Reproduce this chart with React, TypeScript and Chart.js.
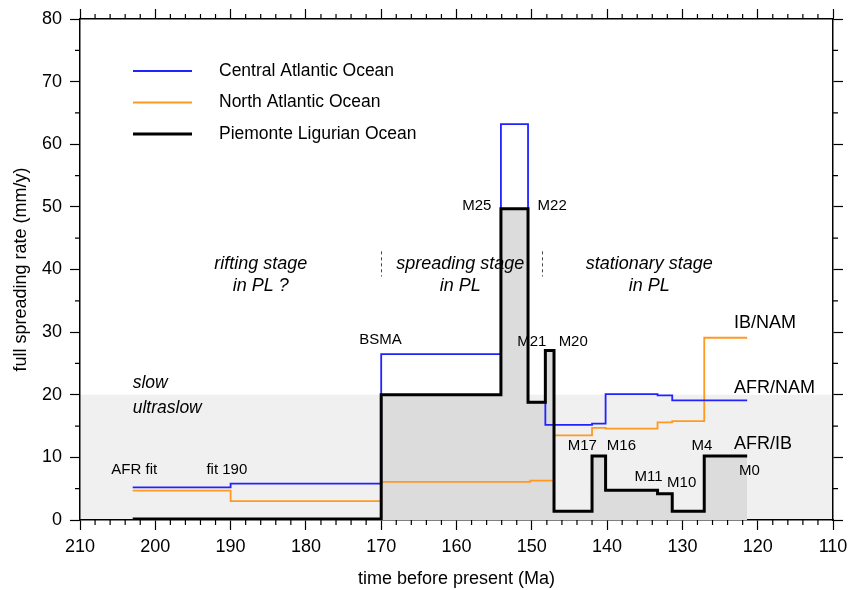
import React, { useEffect, useRef } from "react";
import { Chart, registerables } from "chart.js";

Chart.register(...registerables);

const FONT = "'Liberation Sans', Arial, Helvetica, sans-serif";

// ---- data (Ma edges and rates in mm/y) ----
const centralEdges = [203, 190, 170, 154.1, 150.5, 148.2, 142, 140.2, 133.3, 131.35, 121.4];
const centralRates = [5.2, 5.8, 26.5, 63.2, 18.8, 15.2, 15.4, 20.1, 19.9, 19.1];

const northEdges = [203, 190, 170, 150.2, 147.05, 142, 140.2, 133.3, 131.35, 127.1, 121.4];
const northRates = [4.7, 3.0, 6.1, 6.3, 13.5, 14.7, 14.6, 15.6, 15.8, 29.1];

const pieEdges = [203, 170, 154.1, 150.5, 148.2, 147.05, 142, 140.2, 133.3, 131.35, 127.1, 121.4];
const pieRates = [0.15, 20, 49.7, 18.8, 27.05, 1.4, 10.2, 4.75, 4.2, 1.4, 10.2];

const seriesNames = ["Central Atlantic Ocean", "North Atlantic Ocean", "Piemonte Ligurian Ocean"];
const seriesColors = ["#2222ff", "#ff9922", "#000000"];
const seriesWidths = [1.8, 1.8, 3];

// ultraslow band
const bandTop = 20;

// annotations (data coordinates)
const chronLabels = ["M25", "M22", "BSMA", "M21", "M20", "M17", "M16", "M11", "M10", "M4", "M0", "AFR fit", "fit 190"];
const chronX = [157.3, 147.3, 170.1, 150.0, 144.5, 143.3, 138.1, 134.5, 130.1, 127.4, 121.1, 202.8, 190.5];
const chronY = [50.2, 50.2, 28.7, 28.4, 28.4, 11.8, 11.8, 6.9, 6.0, 11.8, 7.8, 8.06, 8.06];

const plateLabels = ["IB/NAM", "AFR/NAM", "AFR/IB"];
const plateX = 123.15;
const plateY = [31.5, 21.1, 12.2];

const speedLabels = ["slow", "ultraslow"];
const speedX = 203.0;
const speedY = [21.9, 17.9];

const stageLines = [["rifting stage", "in PL ?"], ["spreading stage", "in PL"], ["stationary stage", "in PL"]];
const stageX = [186.0, 159.5, 134.4];
const stageRowY = [40.8, 37.3];

const stageDividers = [170, 148.7];
const dividerRange = [38.9, 42.9];

const xTicksMin = 110;
const xTicksMax = 210;

function steps(edges: number[], rates: number[]) {
  const pts: { x: number; y: number }[] = [];
  rates.forEach((r, i) => {
    pts.push({ x: edges[i], y: r });
    pts.push({ x: edges[i + 1], y: r });
  });
  return pts;
}

const decorPlugin = {
  id: "decor",
  beforeDraw(chart: any) {
    const { ctx, chartArea, scales } = chart;
    const y = scales.y;
    ctx.save();
    ctx.fillStyle = "#f0f0f0";
    const yt = y.getPixelForValue(bandTop);
    const yb = y.getPixelForValue(0);
    ctx.fillRect(chartArea.left, yt, chartArea.right - chartArea.left, yb - yt);
    ctx.restore();
  },
  afterDatasetsDraw(chart: any) {
    const { ctx, scales } = chart;
    const x = scales.x;
    const y = scales.y;
    ctx.save();
    // dividers
    ctx.strokeStyle = "#444";
    ctx.lineWidth = 1;
    ctx.setLineDash([3, 3]);
    stageDividers.forEach((v) => {
      const px = Math.round(x.getPixelForValue(v)) + 0.5;
      ctx.beginPath();
      ctx.moveTo(px, y.getPixelForValue(dividerRange[1]));
      ctx.lineTo(px, y.getPixelForValue(dividerRange[0]));
      ctx.stroke();
    });
    ctx.setLineDash([]);

    ctx.fillStyle = "#000";
    ctx.textBaseline = "middle";
    // chron labels
    ctx.font = `15px ${FONT}`;
    ctx.textAlign = "center";
    chronLabels.forEach((t, i) => {
      ctx.fillText(t, x.getPixelForValue(chronX[i]), y.getPixelForValue(chronY[i]));
    });
    // plate labels
    ctx.font = `18px ${FONT}`;
    ctx.textAlign = "left";
    plateLabels.forEach((t, i) => {
      ctx.fillText(t, x.getPixelForValue(plateX), y.getPixelForValue(plateY[i]));
    });
    // speed labels
    ctx.font = `italic 17.5px ${FONT}`;
    speedLabels.forEach((t, i) => {
      ctx.fillText(t, x.getPixelForValue(speedX), y.getPixelForValue(speedY[i]));
    });
    // stage labels
    ctx.font = `italic 18px ${FONT}`;
    ctx.textAlign = "center";
    stageLines.forEach((lines, i) => {
      lines.forEach((t, j) => {
        ctx.fillText(t, x.getPixelForValue(stageX[i]), y.getPixelForValue(stageRowY[j]));
      });
    });

    // legend
    const ca = chart.chartArea;
    const lx0 = ca.left + 53;
    const lx1 = ca.left + 112;
    const tx = ca.left + 139;
    const ly0 = ca.top + 52;
    const dy = 31.5;
    ctx.font = `17.5px ${FONT}`;
    ctx.textAlign = "left";
    seriesNames.forEach((name, i) => {
      const ly = ly0 + i * dy;
      ctx.strokeStyle = seriesColors[i];
      ctx.lineWidth = seriesWidths[i];
      ctx.beginPath();
      ctx.moveTo(lx0, ly);
      ctx.lineTo(lx1, ly);
      ctx.stroke();
      ctx.fillStyle = "#000";
      ctx.fillText(name, tx, ly);
    });
    ctx.restore();
  },
  afterDraw(chart: any) {
    const { ctx, chartArea, scales } = chart;
    const x = scales.x;
    const y = scales.y;
    ctx.save();
    ctx.strokeStyle = "#000";
    ctx.lineWidth = 1.2;
    const len = 5;
    for (let v = xTicksMin; v <= xTicksMax; v += 2) {
      if (v % 10 === 0) continue;
      const px = x.getPixelForValue(v);
      ctx.beginPath();
      ctx.moveTo(px, chartArea.bottom);
      ctx.lineTo(px, chartArea.bottom + len);
      ctx.moveTo(px, chartArea.top);
      ctx.lineTo(px, chartArea.top - len);
      ctx.stroke();
    }
    for (let v = 0; v <= 80; v += 5) {
      if (v % 10 === 0) continue;
      const py = y.getPixelForValue(v);
      ctx.beginPath();
      ctx.moveTo(chartArea.left, py);
      ctx.lineTo(chartArea.left - len, py);
      ctx.moveTo(chartArea.right, py);
      ctx.lineTo(chartArea.right + len, py);
      ctx.stroke();
    }
    ctx.restore();
  },
};

function zeroPad(s: any) {
  s.paddingLeft = 0;
  s.paddingRight = 0;
  s.paddingTop = 0;
  s.paddingBottom = 0;
}

export default function App() {
  const ref = useRef<HTMLCanvasElement>(null);

  useEffect(() => {
    const tickGrid = {
      drawOnChartArea: false,
      drawTicks: true,
      tickLength: 10,
      tickColor: "#000",
      tickWidth: 1.2,
    };
    const border = { display: true, color: "#000", width: 1.5 };
    const chart = new Chart(ref.current as HTMLCanvasElement, {
      type: "line",
      data: {
        datasets: [
          {
            label: seriesNames[2],
            data: steps(pieEdges, pieRates),
            borderColor: seriesColors[2],
            borderWidth: seriesWidths[2],
            backgroundColor: "#dcdcdc",
            fill: "origin",
            order: 0,
          },
          {
            label: seriesNames[0],
            data: steps(centralEdges, centralRates),
            borderColor: seriesColors[0],
            borderWidth: seriesWidths[0],
            fill: false,
            order: 1,
          },
          {
            label: seriesNames[1],
            data: steps(northEdges, northRates),
            borderColor: seriesColors[1],
            borderWidth: seriesWidths[1],
            fill: false,
            order: 2,
          },
        ] as any,
      },
      options: {
        animation: false,
        responsive: false,
        devicePixelRatio: 1,
        layout: { padding: 0 },
        elements: {
          point: { radius: 0, hoverRadius: 0 },
          line: { tension: 0, borderJoinStyle: "miter", borderCapStyle: "butt" },
        },
        plugins: {
          legend: { display: false },
          tooltip: { enabled: false },
          filler: { drawTime: "beforeDatasetsDraw" },
        } as any,
        scales: {
          x: {
            type: "linear",
            position: "bottom",
            min: xTicksMin,
            max: xTicksMax,
            reverse: true,
            ticks: { stepSize: 10, color: "#000", font: { family: FONT, size: 18 }, padding: 6, maxRotation: 0 },
            grid: tickGrid,
            border,
            title: {
              display: true,
              text: "time before present (Ma)",
              color: "#000",
              font: { family: FONT, size: 18 },
              padding: { top: 0, bottom: 0 },
            },
            afterFit(s: any) {
              s.height = 70;
              zeroPad(s);
            },
          },
          x2: {
            type: "linear",
            position: "top",
            min: xTicksMin,
            max: xTicksMax,
            reverse: true,
            ticks: { stepSize: 10, display: false },
            grid: tickGrid,
            border,
            afterFit(s: any) {
              s.height = 19;
              zeroPad(s);
            },
          },
          y: {
            type: "linear",
            position: "left",
            min: 0,
            max: 80,
            ticks: { stepSize: 10, color: "#000", font: { family: FONT, size: 18 }, padding: 8 },
            grid: tickGrid,
            border,
            title: {
              display: true,
              text: "full spreading rate (mm/y)",
              color: "#000",
              font: { family: FONT, size: 18 },
              padding: { top: 10, bottom: 0 },
            },
            afterFit(s: any) {
              s.width = 80;
              zeroPad(s);
            },
          },
          y2: {
            type: "linear",
            position: "right",
            min: 0,
            max: 80,
            ticks: { stepSize: 10, display: false },
            grid: tickGrid,
            border,
            afterFit(s: any) {
              s.width = 16;
              zeroPad(s);
            },
          },
        } as any,
      },
      plugins: [decorPlugin],
    });
    return () => chart.destroy();
  }, []);

  return (
    <div style={{ position: "absolute", left: 0, top: 0, width: 849, height: 590, background: "#fff" }}>
      <canvas ref={ref} width={849} height={590} style={{ display: "block", width: 849, height: 590 }} />
    </div>
  );
}
